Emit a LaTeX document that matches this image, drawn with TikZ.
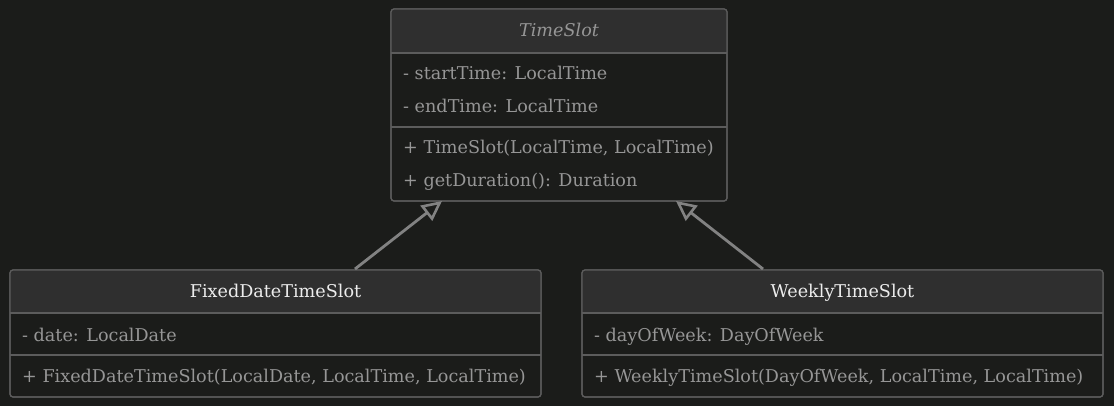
\documentclass[tikz,border=0pt]{standalone}
\usepackage{fontspec}
\setmainfont{DejaVu Serif}
\usetikzlibrary{arrows.meta}
\definecolor{bgc}{RGB}{27,28,26}
\definecolor{headc}{RGB}{47,47,47}
\definecolor{borderc}{RGB}{92,92,92}
\definecolor{txtc}{RGB}{150,150,150}
\definecolor{titlec}{RGB}{236,236,236}
\definecolor{arrowc}{RGB}{130,130,130}
\newcommand\txtsize{\fontsize{17.6pt}{20pt}\selectfont}
\tikzset{
  classbox/.style={draw=borderc, line width=1.2pt, fill=bgc, rounded corners=3pt, inner sep=0pt, outer sep=0pt, anchor=north west},
  sepline/.style={draw=borderc, line width=1.2pt},
  member/.style={anchor=base west, inner sep=0pt, text=txtc, font=\txtsize},
  titletxt/.style={anchor=base, inner sep=0pt, text=titlec, font=\txtsize},
  abstitle/.style={anchor=base, inner sep=0pt, text=txtc, font=\txtsize\itshape},
  inherit/.style={draw=arrowc, line width=2.8pt, -{Triangle[open, length=20pt, width=19pt, line width=2.6pt]}}
}
\begin{document}
\begin{tikzpicture}[x=1pt,y=-1pt]
\fill[bgc] (0,0) rectangle (1114,406);
\useasboundingbox (0,0) rectangle (1114,406);

% TimeSlot
\node[classbox, minimum width=336pt, minimum height=192pt] (ts) at (391,9) {};
\begin{scope}
  \clip[rounded corners=3pt] (391,9) rectangle (727,201);
  \fill[headc] (391,9) rectangle (727,53);
\end{scope}
\draw[sepline] (391,53) -- (727,53);
\draw[sepline] (391,127) -- (727,127);
\draw[draw=borderc, line width=1.2pt, rounded corners=3pt] (391,9) rectangle (727,201);
\node[abstitle] (tsT) at (559,37) {TimeSlot};
\node[member] (tsA1) at (403,80) {- startTime: LocalTime};
\node[member] (tsA2) at (403,113) {- endTime: LocalTime};
\node[member] (tsM1) at (403,154) {+ TimeSlot(LocalTime, LocalTime)};
\node[member] (tsM2) at (403,187) {+ getDuration(): Duration};

% FixedDateTimeSlot
\node[classbox, minimum width=531pt, minimum height=127pt] (fd) at (10,270) {};
\begin{scope}
  \clip[rounded corners=3pt] (10,270) rectangle (541,397);
  \fill[headc] (10,270) rectangle (541,313);
\end{scope}
\draw[sepline] (10,313) -- (541,313);
\draw[sepline] (10,355) -- (541,355);
\draw[draw=borderc, line width=1.2pt, rounded corners=3pt] (10,270) rectangle (541,397);
\node[titletxt] (fdT) at (275.5,298) {FixedDateTimeSlot};
\node[member] (fdA1) at (22,341) {- date: LocalDate};
\node[member] (fdM1) at (22,382) {+ FixedDateTimeSlot(LocalDate, LocalTime, LocalTime)};

% WeeklyTimeSlot
\node[classbox, minimum width=521pt, minimum height=127pt] (wk) at (582,270) {};
\begin{scope}
  \clip[rounded corners=3pt] (582,270) rectangle (1103,397);
  \fill[headc] (582,270) rectangle (1103,313);
\end{scope}
\draw[sepline] (582,313) -- (1103,313);
\draw[sepline] (582,355) -- (1103,355);
\draw[draw=borderc, line width=1.2pt, rounded corners=3pt] (582,270) rectangle (1103,397);
\node[titletxt] (wkT) at (842.5,298) {WeeklyTimeSlot};
\node[member] (wkA1) at (594,341) {- dayOfWeek: DayOfWeek};
\node[member] (wkM1) at (594,382) {+ WeeklyTimeSlot(DayOfWeek, LocalTime, LocalTime)};

% inheritance
\coordinate (fdup) at (355,269);
\coordinate (tsl) at (442,201);
\coordinate (wkup) at (763,269);
\coordinate (tsr) at (676,201);
\draw[inherit] (fdup) -- (tsl);
\draw[inherit] (wkup) -- (tsr);
\end{tikzpicture}
\end{document}
